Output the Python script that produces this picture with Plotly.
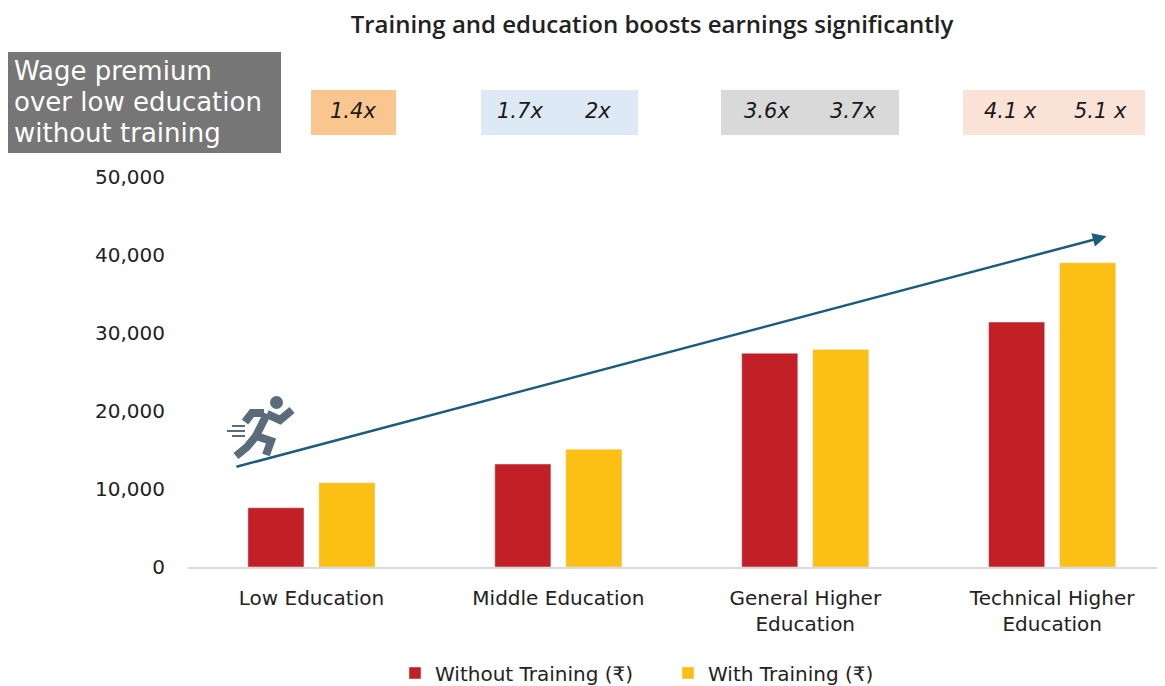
import plotly.graph_objects as go

# data
categories = ['Low Education', 'Middle Education', 'General Higher<br>Education', 'Technical Higher<br>Education']
without_training = [7600, 13200, 27400, 31400]
with_training = [10800, 15100, 27900, 39000]
premium_labels = [['1.4x'], ['1.7x', '2x'], ['3.6x', '3.7x'], ['4.1 x', '5.1 x']]
y_ticks = [0, 10000, 20000, 30000, 40000, 50000]

FONT = 'DejaVu Sans'
RED = '#c21f27'
YELLOW = '#fcbf14'
TXT = '#222222'

# the page puts the figure 8px in from the top-left corner
OFF = 8
W, H = 1165 - OFF, 686 - OFF
# plot area, in screen pixels
L, R, T, B = 188, 1165, 177, 567


def px_x(p):
    return (p - L) / (R - L)


def px_y(p):
    return (B - p) / (B - T)


fig = go.Figure()
fig.add_trace(go.Bar(x=categories, y=without_training, name='Without Training (₹)',
                     marker_color=RED, hoverinfo='y'))
fig.add_trace(go.Bar(x=categories, y=with_training, name='With Training (₹)',
                     marker_color=YELLOW, hoverinfo='y'))

shapes = []
annotations = []

# grey label box on the left
shapes.append(dict(type='rect', xref='paper', yref='paper',
                   x0=px_x(6), x1=px_x(281), y0=px_y(153), y1=px_y(52),
                   fillcolor='#767676', line_width=0, layer='above'))
for line, yy in zip(['Wage premium', 'over low education', 'without training'], [71, 102, 133]):
    annotations.append(dict(xref='paper', yref='paper', x=px_x(12), y=px_y(yy),
                            xanchor='left', yanchor='middle', align='left', showarrow=False,
                            text=line, font=dict(family=FONT, size=26, color='white')))

# premium boxes above each group
boxes = [(311, 396, '#f9c68f'), (481, 638, '#ddeaf6'), (721, 899, '#d9d9d9'), (963, 1145, '#fbe2d6')]
text_pos = [[353], [520, 598], [767, 853], [1010, 1100]]
for (x0, x1, col), labels, xs in zip(boxes, premium_labels, text_pos):
    shapes.append(dict(type='rect', xref='paper', yref='paper',
                       x0=px_x(x0), x1=px_x(x1), y0=px_y(135), y1=px_y(90),
                       fillcolor=col, line_width=0, layer='above'))
    for lab, xp in zip(labels, xs):
        annotations.append(dict(xref='paper', yref='paper', x=px_x(xp), y=px_y(111),
                                xanchor='center', yanchor='middle', showarrow=False,
                                text='<i>' + lab + '</i>',
                                font=dict(family=FONT, size=21, color='#1a1a1a')))

# trend arrow
annotations.append(dict(xref='x', yref='y', axref='x', ayref='y',
                        x=3.22, y=42400, ax=-0.31, ay=12800, text='',
                        showarrow=True, arrowhead=2, arrowsize=1.1, arrowwidth=2.5,
                        arrowcolor='#1d5d7c'))

# little running man icon
RUN = '#5b6b7a'
shapes.append(dict(type='circle', xref='paper', yref='paper',
                   x0=px_x(270), x1=px_x(283), y0=px_y(409), y1=px_y(396),
                   fillcolor=RUN, line_width=0))
limbs = [
    [(267, 414), (256, 436)],              # torso
    [(267, 414), (280, 420), (292, 410)],  # front arm
    [(264, 413), (252, 413), (245, 422)],  # back arm
    [(256, 436), (271, 441), (266, 455)],  # front leg
    [(256, 436), (247, 447), (236, 456)],  # back leg
]
for pts in limbs:
    path = 'M ' + ' L '.join(f'{px_x(a):.5f},{px_y(b):.5f}' for a, b in pts)
    shapes.append(dict(type='path', xref='paper', yref='paper', path=path,
                       line=dict(color=RUN, width=8)))
for yy, x0 in [(426, 232), (431, 227), (436, 232)]:
    shapes.append(dict(type='line', xref='paper', yref='paper',
                       x0=px_x(x0), x1=px_x(245), y0=px_y(yy), y1=px_y(yy),
                       line=dict(color=RUN, width=2)))

fig.update_layout(
    width=W, height=H,
    margin=dict(l=L - OFF, r=0, t=T - OFF, b=H - (B - OFF), autoexpand=False),
    paper_bgcolor='white', plot_bgcolor='white',
    font=dict(family=FONT, color=TXT),
    barmode='group', bargap=0.425, bargroupgap=0.21,
    title=dict(text='Training and education boosts earnings significantly',
               x=px_x(652), xref='paper', xanchor='center',
               y=1 - (25 - OFF) / H, yref='container', yanchor='middle',
               font=dict(family='Open Sans', size=24, color=TXT, weight=600)),
    legend=dict(orientation='h', x=px_x(395), xanchor='left', y=px_y(673), yanchor='middle',
                font=dict(family=FONT, size=20, color=TXT), itemwidth=30,
                entrywidth=228, traceorder='normal'),
    shapes=shapes,
    annotations=annotations,
)
fig.update_xaxes(range=[-0.5, 3.457], showline=True, linecolor='#d9d9d9', linewidth=1.5,
                 showgrid=False, ticks='', ticklabelstandoff=12,
                 tickfont=dict(family=FONT, size=20, color=TXT))
fig.update_yaxes(range=[0, 50000], tickvals=y_ticks, tickformat=',', showgrid=False,
                 zeroline=False, showline=False, ticks='', ticklabelstandoff=22,
                 tickfont=dict(family=FONT, size=20, color=TXT))

fig.write_html('out.html')
